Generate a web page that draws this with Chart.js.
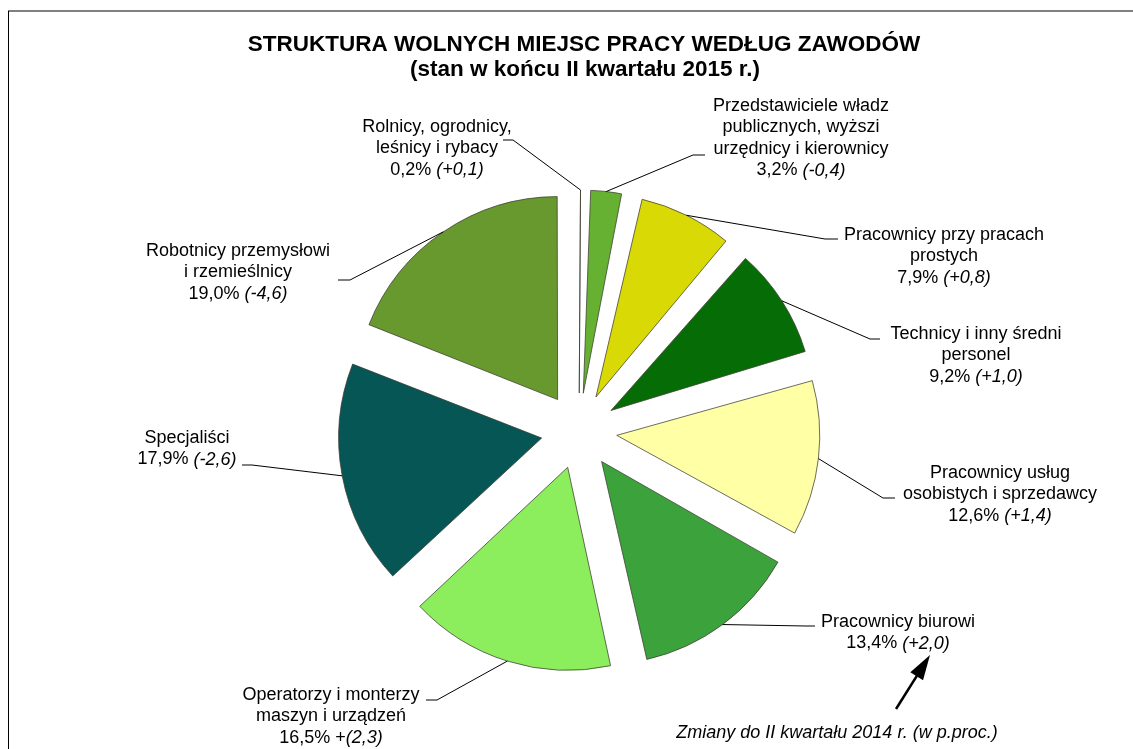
<!DOCTYPE html>
<html lang="pl">
<head>
<meta charset="utf-8">
<title>Struktura wolnych miejsc pracy według zawodów</title>
<script src="https://cdn.jsdelivr.net/npm/chart.js@4/dist/chart.umd.min.js"></script>
<style>
  html, body { margin: 0; padding: 0; background: #fff; }
  canvas { display: block; }
</style>
</head>
<body>
<canvas id="pieChart" width="1133" height="749"></canvas>
<script>
// Dane (stan w końcu II kwartału 2015 r.)
const categories = [
  ['Rolnicy, ogrodnicy,', 'leśnicy i rybacy'],
  ['Przedstawiciele władz', 'publicznych, wyższi', 'urzędnicy i kierownicy'],
  ['Pracownicy przy pracach', 'prostych'],
  ['Technicy i inny średni', 'personel'],
  ['Pracownicy usług', 'osobistych i sprzedawcy'],
  ['Pracownicy biurowi'],
  ['Operatorzy i monterzy', 'maszyn i urządzeń'],
  ['Specjaliści'],
  ['Robotnicy przemysłowi', 'i rzemieślnicy']
];
const shares = [0.2, 3.2, 7.9, 9.2, 12.6, 13.4, 16.5, 17.9, 19.0];
// zmiany do II kwartału 2014 r. (w p.proc.)
const changes = ['(+0,1)', '(-0,4)', '(+0,8)', '(+1,0)', '(+1,4)', '(+2,0)', '+(2,3)', '(-2,6)', '(-4,6)'];

const colors = ['#9cbb58', '#66b032', '#d9d906', '#066d06', '#ffffa6', '#3ca23c', '#8ced5d', '#065656', '#67992f'];

// Układ etykiet: środek tekstu, załamanie linii, koniec linii
const labelPos = [
  { x: 437, y: 127, elbow: [513, 140], end: [503, 140] },
  { x: 801, y: 106, elbow: [693, 155], end: [705, 155] },
  { x: 944, y: 235, elbow: [825, 239], end: [838, 239] },
  { x: 976, y: 334, elbow: [870, 339], end: [880, 339] },
  { x: 1000, y: 473, elbow: [883, 498], end: [895, 498] },
  { x: 898, y: 622, elbow: [806, 626], end: [815, 626] },
  { x: 331, y: 695, elbow: [437, 700], end: [426, 700] },
  { x: 187, y: 438, elbow: [252, 465], end: [242, 465] },
  { x: 238, y: 251, elbow: [350, 280], end: [338, 280] }
];

const RADIUS = 203;
const EXPLODE = 38;   // przesunięcie wycinków w px
const FONT = '"Liberation Sans", Arial, sans-serif';
const LINE_H = 21.5;

function fmt(v) {
  return v.toFixed(1).replace('.', ',') + '%';
}

// w v4 offset jest dzielony przez 4 i powiększa promień małych wycinków - wyrównanie
const radiusFix = {
  id: 'radiusFix',
  beforeDatasetsDraw(chart) {
    chart.getDatasetMeta(0).data.forEach(arc => {
      const circ = arc.endAngle - arc.startAngle;
      const fix = 1 - Math.sin(Math.min(Math.PI, circ));
      arc.outerRadius = RADIUS - EXPLODE * fix;
    });
  }
};

const annotations = {
  id: 'annotations',
  afterDraw(chart) {
    const ctx = chart.ctx;
    ctx.save();

    // ramka
    ctx.strokeStyle = '#808080';
    ctx.lineWidth = 2;
    ctx.beginPath();
    ctx.moveTo(8, 11);
    ctx.lineTo(1133, 11);
    ctx.stroke();
    ctx.strokeStyle = '#000';
    ctx.lineWidth = 1;
    ctx.beginPath();
    ctx.moveTo(8.5, 11);
    ctx.lineTo(8.5, 749);
    ctx.stroke();

    // tytuł
    ctx.fillStyle = '#000';
    ctx.textAlign = 'center';
    ctx.textBaseline = 'middle';
    ctx.font = 'bold 22.5px ' + FONT;
    ctx.fillText('STRUKTURA WOLNYCH MIEJSC PRACY WEDŁUG ZAWODÓW', 584, 45);
    ctx.fillText('(stan w końcu II kwartału 2015 r.)', 585, 70);

    // linie odniesienia i etykiety
    const arcs = chart.getDatasetMeta(0).data;
    arcs.forEach((arc, i) => {
      const mid = (arc.startAngle + arc.endAngle) / 2;
      const cx = arc.x + Math.cos(mid) * EXPLODE;
      const cy = arc.y + Math.sin(mid) * EXPLODE;
      const ax = cx + Math.cos(mid) * RADIUS;
      const ay = cy + Math.sin(mid) * RADIUS;
      const p = labelPos[i];
      ctx.strokeStyle = '#000';
      ctx.lineWidth = 1;
      ctx.beginPath();
      ctx.moveTo(ax, ay);
      ctx.lineTo(p.elbow[0], p.elbow[1]);
      ctx.lineTo(p.end[0], p.end[1]);
      ctx.stroke();

      const lines = categories[i];
      ctx.textAlign = 'center';
      ctx.font = '18px ' + FONT;
      lines.forEach((t, k) => ctx.fillText(t, p.x, p.y + k * LINE_H));

      // wartość + zmiana (kursywa)
      const y = p.y + lines.length * LINE_H;
      const ch = changes[i];
      const cut = ch.indexOf('(');
      const normal = fmt(shares[i]) + ' ' + ch.slice(0, cut);
      const italic = ch.slice(cut);
      ctx.font = '18px ' + FONT;
      const w1 = ctx.measureText(normal).width;
      ctx.font = 'italic 18px ' + FONT;
      const w2 = ctx.measureText(italic).width;
      const x0 = p.x - (w1 + w2) / 2;
      ctx.textAlign = 'left';
      ctx.font = '18px ' + FONT;
      ctx.fillText(normal, x0, y);
      ctx.font = 'italic 18px ' + FONT;
      ctx.fillText(italic, x0 + w1, y);
    });

    // objaśnienie
    ctx.textAlign = 'center';
    ctx.font = 'italic 18px ' + FONT;
    ctx.fillText('Zmiany do II kwartału 2014 r. (w p.proc.)', 837, 733);

    // strzałka
    const tx = 930, ty = 655, sx = 896, sy = 709;
    const ang = Math.atan2(ty - sy, tx - sx);
    ctx.lineWidth = 2.5;
    ctx.beginPath();
    ctx.moveTo(sx, sy);
    ctx.lineTo(tx - Math.cos(ang) * 12, ty - Math.sin(ang) * 12);
    ctx.stroke();
    ctx.beginPath();
    ctx.moveTo(tx, ty);
    ctx.lineTo(tx - Math.cos(ang) * 25 + Math.sin(ang) * 7.5, ty - Math.sin(ang) * 25 - Math.cos(ang) * 7.5);
    ctx.lineTo(tx - Math.cos(ang) * 25 - Math.sin(ang) * 7.5, ty - Math.sin(ang) * 25 + Math.cos(ang) * 7.5);
    ctx.closePath();
    ctx.fill();

    ctx.restore();
  }
};

const ctx = document.getElementById('pieChart').getContext('2d');
const pieChart = new Chart(ctx, {
  type: 'pie',
  data: {
    labels: categories,
    datasets: [{
      data: shares,
      backgroundColor: colors,
      borderColor: 'rgba(60,60,50,0.75)',
      borderWidth: 1,
      offset: EXPLODE * 4
    }]
  },
  options: {
    responsive: false,
    animation: false,
    radius: RADIUS,
    layout: { padding: { left: 125, right: 100, top: 123, bottom: 10 } },
    plugins: {
      legend: { display: false },
      title: { display: false },
      tooltip: { enabled: false }
    }
  },
  plugins: [radiusFix, annotations]
});
</script>
</body>
</html>
